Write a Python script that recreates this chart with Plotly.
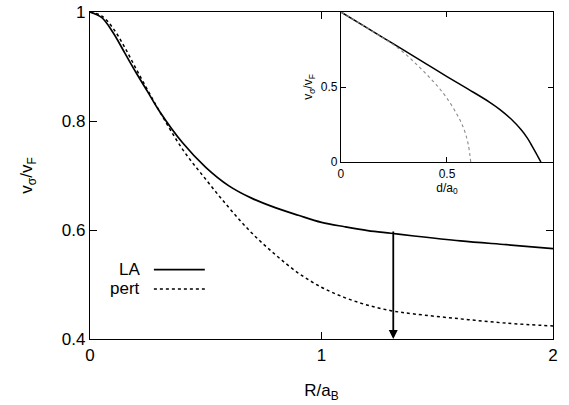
import plotly.graph_objects as go

# Main panel data
R = [0, 0.05, 0.1, 0.15, 0.2, 0.25, 0.3, 0.4, 0.5, 0.6, 0.7, 0.8, 0.9, 1.0, 1.1, 1.2, 1.3, 1.4, 1.6, 1.8, 2.0]
v_LA = [1.0, 0.99, 0.962, 0.925, 0.888, 0.853, 0.818, 0.76, 0.715, 0.681, 0.658, 0.641, 0.627, 0.614, 0.606, 0.599, 0.594, 0.589, 0.580, 0.573, 0.566]
v_pert = [1.0, 0.993, 0.97, 0.935, 0.895, 0.856, 0.818, 0.748, 0.693, 0.641, 0.594, 0.555, 0.521, 0.495, 0.476, 0.462, 0.452, 0.446, 0.437, 0.429, 0.424]

# Inset data
d_LA = [0, 0.1, 0.2, 0.3, 0.4, 0.5, 0.6, 0.7, 0.75, 0.8, 0.85, 0.88, 0.9, 0.92, 0.943]
vi_LA = [1.0, 0.914, 0.828, 0.742, 0.656, 0.57, 0.486, 0.4, 0.35, 0.29, 0.215, 0.158, 0.11, 0.06, 0.0]
d_pert = [0, 0.1, 0.2, 0.25, 0.3, 0.35, 0.4, 0.45, 0.5, 0.55, 0.58, 0.6, 0.612]
vi_pert = [1.0, 0.914, 0.826, 0.78, 0.725, 0.66, 0.59, 0.515, 0.425, 0.31, 0.22, 0.12, 0.0]

arrow_x = 1.31
arrow_y0, arrow_y1 = 0.6, 0.4

main_ticks_x = [0, 1, 2]
main_ticks_y = [0.4, 0.6, 0.8, 1.0]
main_ticks_y_text = ["0.4", "0.6", "0.8", "1"]
inset_ticks = [0, 0.5]
inset_ticks_text = ["0", "0.5"]

FONT = "Liberation Sans, Arial, Helvetica, sans-serif"

fig = go.Figure()
fig.add_trace(go.Scatter(x=R, y=v_LA, mode="lines", line=dict(color="black", width=1.7, shape="spline"), name="LA"))
fig.add_trace(go.Scatter(x=R, y=v_pert, mode="lines", line=dict(color="black", width=1.5, dash="dot", shape="spline"), name="pert"))
fig.add_trace(go.Scatter(x=d_LA, y=vi_LA, mode="lines", xaxis="x2", yaxis="y2",
                         line=dict(color="black", width=1.5, shape="spline"), name="LA inset"))
fig.add_trace(go.Scatter(x=d_pert, y=vi_pert, mode="lines", xaxis="x2", yaxis="y2",
                         line=dict(color="#8a8a8a", width=1.1, dash="dot", shape="spline"), name="pert inset"))

axis_common = dict(showgrid=False, zeroline=False, showline=True, linecolor="black", linewidth=1.3,
                   mirror="ticks", ticks="inside", tickcolor="black", automargin=False)

fig.update_layout(
    width=569, height=405,
    margin=dict(l=90, r=16, t=12, b=66),
    paper_bgcolor="white", plot_bgcolor="white",
    showlegend=False,
    font=dict(family=FONT, color="black", size=17),
    xaxis=dict(range=[0, 2], domain=[0, 1], tickvals=main_ticks_x, ticklen=7,
               tickfont=dict(size=17),
               title=dict(text="R/a<sub>B</sub>", font=dict(size=17), standoff=20), **axis_common),
    yaxis=dict(range=[0.4, 1.0], domain=[0, 1], tickvals=main_ticks_y, ticktext=main_ticks_y_text,
               ticklen=7, tickfont=dict(size=17),
               title=dict(text="v<sub>σ</sub>/v<sub>F</sub>", font=dict(size=17), standoff=24), **axis_common),
    xaxis2=dict(range=[0, 1], domain=[0.542, 1.0], anchor="y2", tickvals=inset_ticks, ticktext=inset_ticks_text,
                ticklen=5, tickfont=dict(size=12),
                title=dict(text="d/a<sub>0</sub>", font=dict(size=12), standoff=1), **axis_common),
    yaxis2=dict(range=[0, 1.0], domain=[0.541, 1.0], anchor="x2", tickvals=inset_ticks, ticktext=inset_ticks_text,
                ticklen=5, tickfont=dict(size=12),
                title=dict(text="v<sub>σ</sub>/v<sub>F</sub>", font=dict(size=12), standoff=5), **axis_common),
)

# Inset background
fig.add_shape(type="rect", xref="paper", yref="paper", x0=0.542, x1=1.0, y0=0.541, y1=1.0,
              fillcolor="white", line=dict(width=0), layer="below")

# Arrow
fig.add_annotation(x=arrow_x, y=arrow_y1, ax=arrow_x, ay=arrow_y0, xref="x", yref="y", axref="x", ayref="y",
                   showarrow=True, arrowhead=2, arrowsize=1, arrowwidth=1.8, arrowcolor="black", text="")

# Manual legend (text to the left of line sample)
legend_items = [("LA", "solid", 1.7), ("pert", "dot", 1.5)]
leg_y = [0.212, 0.153]
for (label, dash, w), yy in zip(legend_items, leg_y):
    fig.add_annotation(x=0.112, y=yy, xref="paper", yref="paper", text=label, showarrow=False,
                       xanchor="right", yanchor="middle", font=dict(size=17))
    fig.add_shape(type="line", xref="paper", yref="paper", x0=0.138, x1=0.248, y0=yy, y1=yy,
                  line=dict(color="black", width=w, dash=dash))

fig.write_html("out.html", config={"displayModeBar": False},
               post_script="document.body.style.margin='0';")
